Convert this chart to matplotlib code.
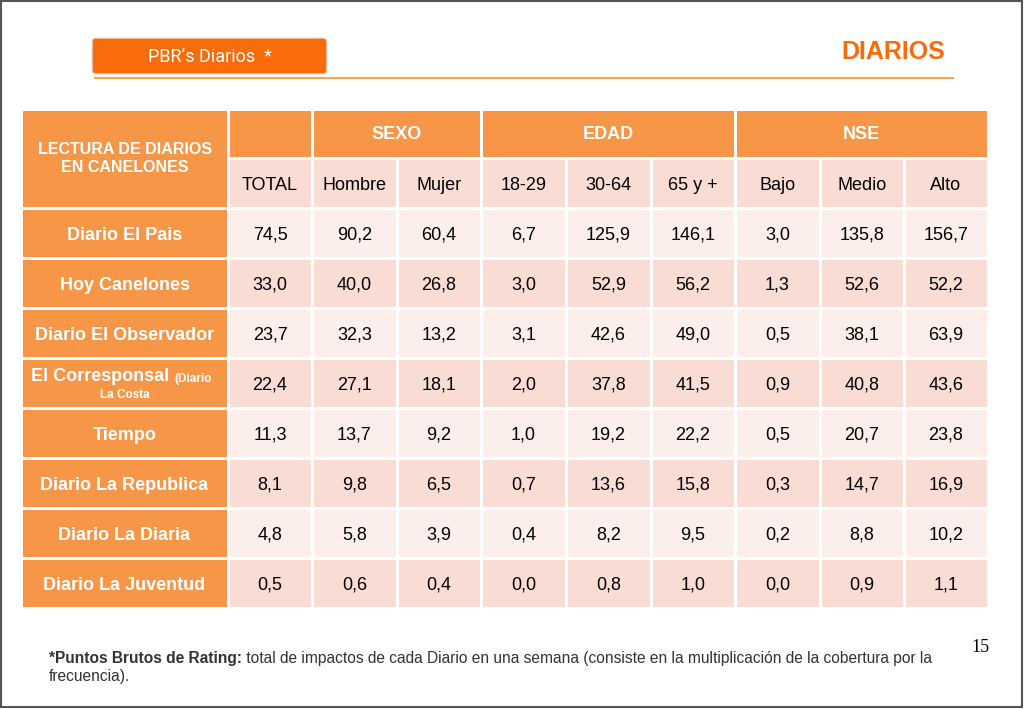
import matplotlib
matplotlib.use("Agg")
import matplotlib.pyplot as plt
from matplotlib.patches import Rectangle, FancyBboxPatch

rows = ["Diario El Pais", "Hoy Canelones", "Diario El Observador", "El Corresponsal", "Tiempo",
        "Diario La Republica", "Diario La Diaria", "Diario La Juventud"]
cols = ["TOTAL", "Hombre", "Mujer", "18-29", "30-64", "65 y +", "Bajo", "Medio", "Alto"]
groups = [("SEXO", 1, 3), ("EDAD", 3, 6), ("NSE", 6, 9)]
values = [
    ["74,5", "90,2", "60,4", "6,7", "125,9", "146,1", "3,0", "135,8", "156,7"],
    ["33,0", "40,0", "26,8", "3,0", "52,9", "56,2", "1,3", "52,6", "52,2"],
    ["23,7", "32,3", "13,2", "3,1", "42,6", "49,0", "0,5", "38,1", "63,9"],
    ["22,4", "27,1", "18,1", "2,0", "37,8", "41,5", "0,9", "40,8", "43,6"],
    ["11,3", "13,7", "9,2", "1,0", "19,2", "22,2", "0,5", "20,7", "23,8"],
    ["8,1", "9,8", "6,5", "0,7", "13,6", "15,8", "0,3", "14,7", "16,9"],
    ["4,8", "5,8", "3,9", "0,4", "8,2", "9,5", "0,2", "8,8", "10,2"],
    ["0,5", "0,6", "0,4", "0,0", "0,8", "1,0", "0,0", "0,9", "1,1"],
]

fig = plt.figure(figsize=(10.24, 7.09), dpi=100)
ax = fig.add_axes([0, 0, 1, 1])
ax.set_xlim(0, 1024); ax.set_ylim(709, 0); ax.axis("off")
F = "Liberation Sans"
OR = "#F79646"; L1 = "#FCEEEA"; L2 = "#F9DCD3"

ax.add_patch(Rectangle((1, 1), 1021, 706, fill=False, ec="#555555", lw=1.5))
ax.add_patch(FancyBboxPatch((92, 38), 235, 36, boxstyle="round,pad=0,rounding_size=4",
                            fc="#FA6C0A", ec="#E0E0E0", lw=1))
ax.text(210, 57, "PBR\u2019s Diarios  *", color="white", fontsize=13, ha="center", va="center",
        family="Roboto", fontstretch="condensed")
ax.plot([95, 953], [78, 78], color="#F7A64A", lw=1.5)
ax.text(945, 52, "DIARIOS", color="#FA6C0A", fontsize=18, fontweight="bold", ha="right",
        va="center", family=F)

xe = [21, 228, 312, 397, 481, 566, 651, 735, 820, 904, 988]
y0, y1, y2 = 109, 158, 208
rh = 50
g = 1.5
FS = 13

def cell(x0, x1, ya, yb, fc):
    ax.add_patch(Rectangle((x0 + g, ya + g), x1 - x0 - 2 * g, yb - ya - 2 * g, fc=fc, ec="none"))

cell(xe[0], xe[1], y0, y2, OR)
ax.text((xe[0] + xe[1]) / 2, 159, "LECTURA DE DIARIOS\nEN CANELONES", color="white",
        fontsize=11.5, fontweight="bold", ha="center", va="center", family=F, linespacing=1.25)
cell(xe[1], xe[2], y0, y1, OR)
for name, a, b in groups:
    cell(xe[a + 1], xe[b + 1], y0, y1, OR)
    ax.text((xe[a + 1] + xe[b + 1]) / 2, (y0 + y1) / 2 + 1, name, color="white", fontsize=FS,
            fontweight="bold", ha="center", va="center", family=F)
for j, c in enumerate(cols):
    cell(xe[j + 1], xe[j + 2], y1, y2, L2)
    ax.text((xe[j + 1] + xe[j + 2]) / 2, (y1 + y2) / 2 + 2, c, fontsize=FS, ha="center",
            va="center", family=F)

for i, r in enumerate(rows):
    ya = y2 + i * rh; yb = ya + rh; yc = (ya + yb) / 2 + 2
    cell(xe[0], xe[1], ya, yb, OR)
    if r == "El Corresponsal":
        t = ax.text(31, yc - 4, "El Corresponsal ", color="white", fontsize=FS,
                    fontweight="bold", ha="left", va="baseline", family=F)
        ax.annotate("(Diario", xy=(1, 0), xycoords=t, color="white", fontsize=8.5,
                    fontweight="bold", ha="left", va="bottom", family=F)
        ax.text((xe[0] + xe[1]) / 2, yc + 10, "La Costa", color="white", fontsize=8.5,
                fontweight="bold", ha="center", va="center", family=F)
    else:
        ax.text((xe[0] + xe[1]) / 2, yc, r, color="white", fontsize=FS, fontweight="bold",
                ha="center", va="center", family=F)
    fc = L1 if i % 2 == 0 else L2
    for j, v in enumerate(values[i]):
        cell(xe[j + 1], xe[j + 2], ya, yb, fc)
        ax.text((xe[j + 1] + xe[j + 2]) / 2, yc, v, fontsize=FS, ha="center", va="center", family=F)

ax.text(990, 648, "15", fontsize=13, ha="right", va="center", family="Liberation Serif")
t1 = ax.text(49, 663, "*Puntos Brutos de Rating:", fontsize=11.2, va="baseline", family=F,
             fontweight="bold", color="#333333")
ax.annotate(" total de impactos de cada Diario en una semana (consiste en la multiplicación de la cobertura por la",
            xy=(1, 0), xycoords=t1, fontsize=11.2, va="bottom", family=F, color="#333333")
ax.text(49, 681, "frecuencia).", fontsize=11.2, va="baseline", family=F, color="#333333")
fig.savefig("out.png", dpi=100)
